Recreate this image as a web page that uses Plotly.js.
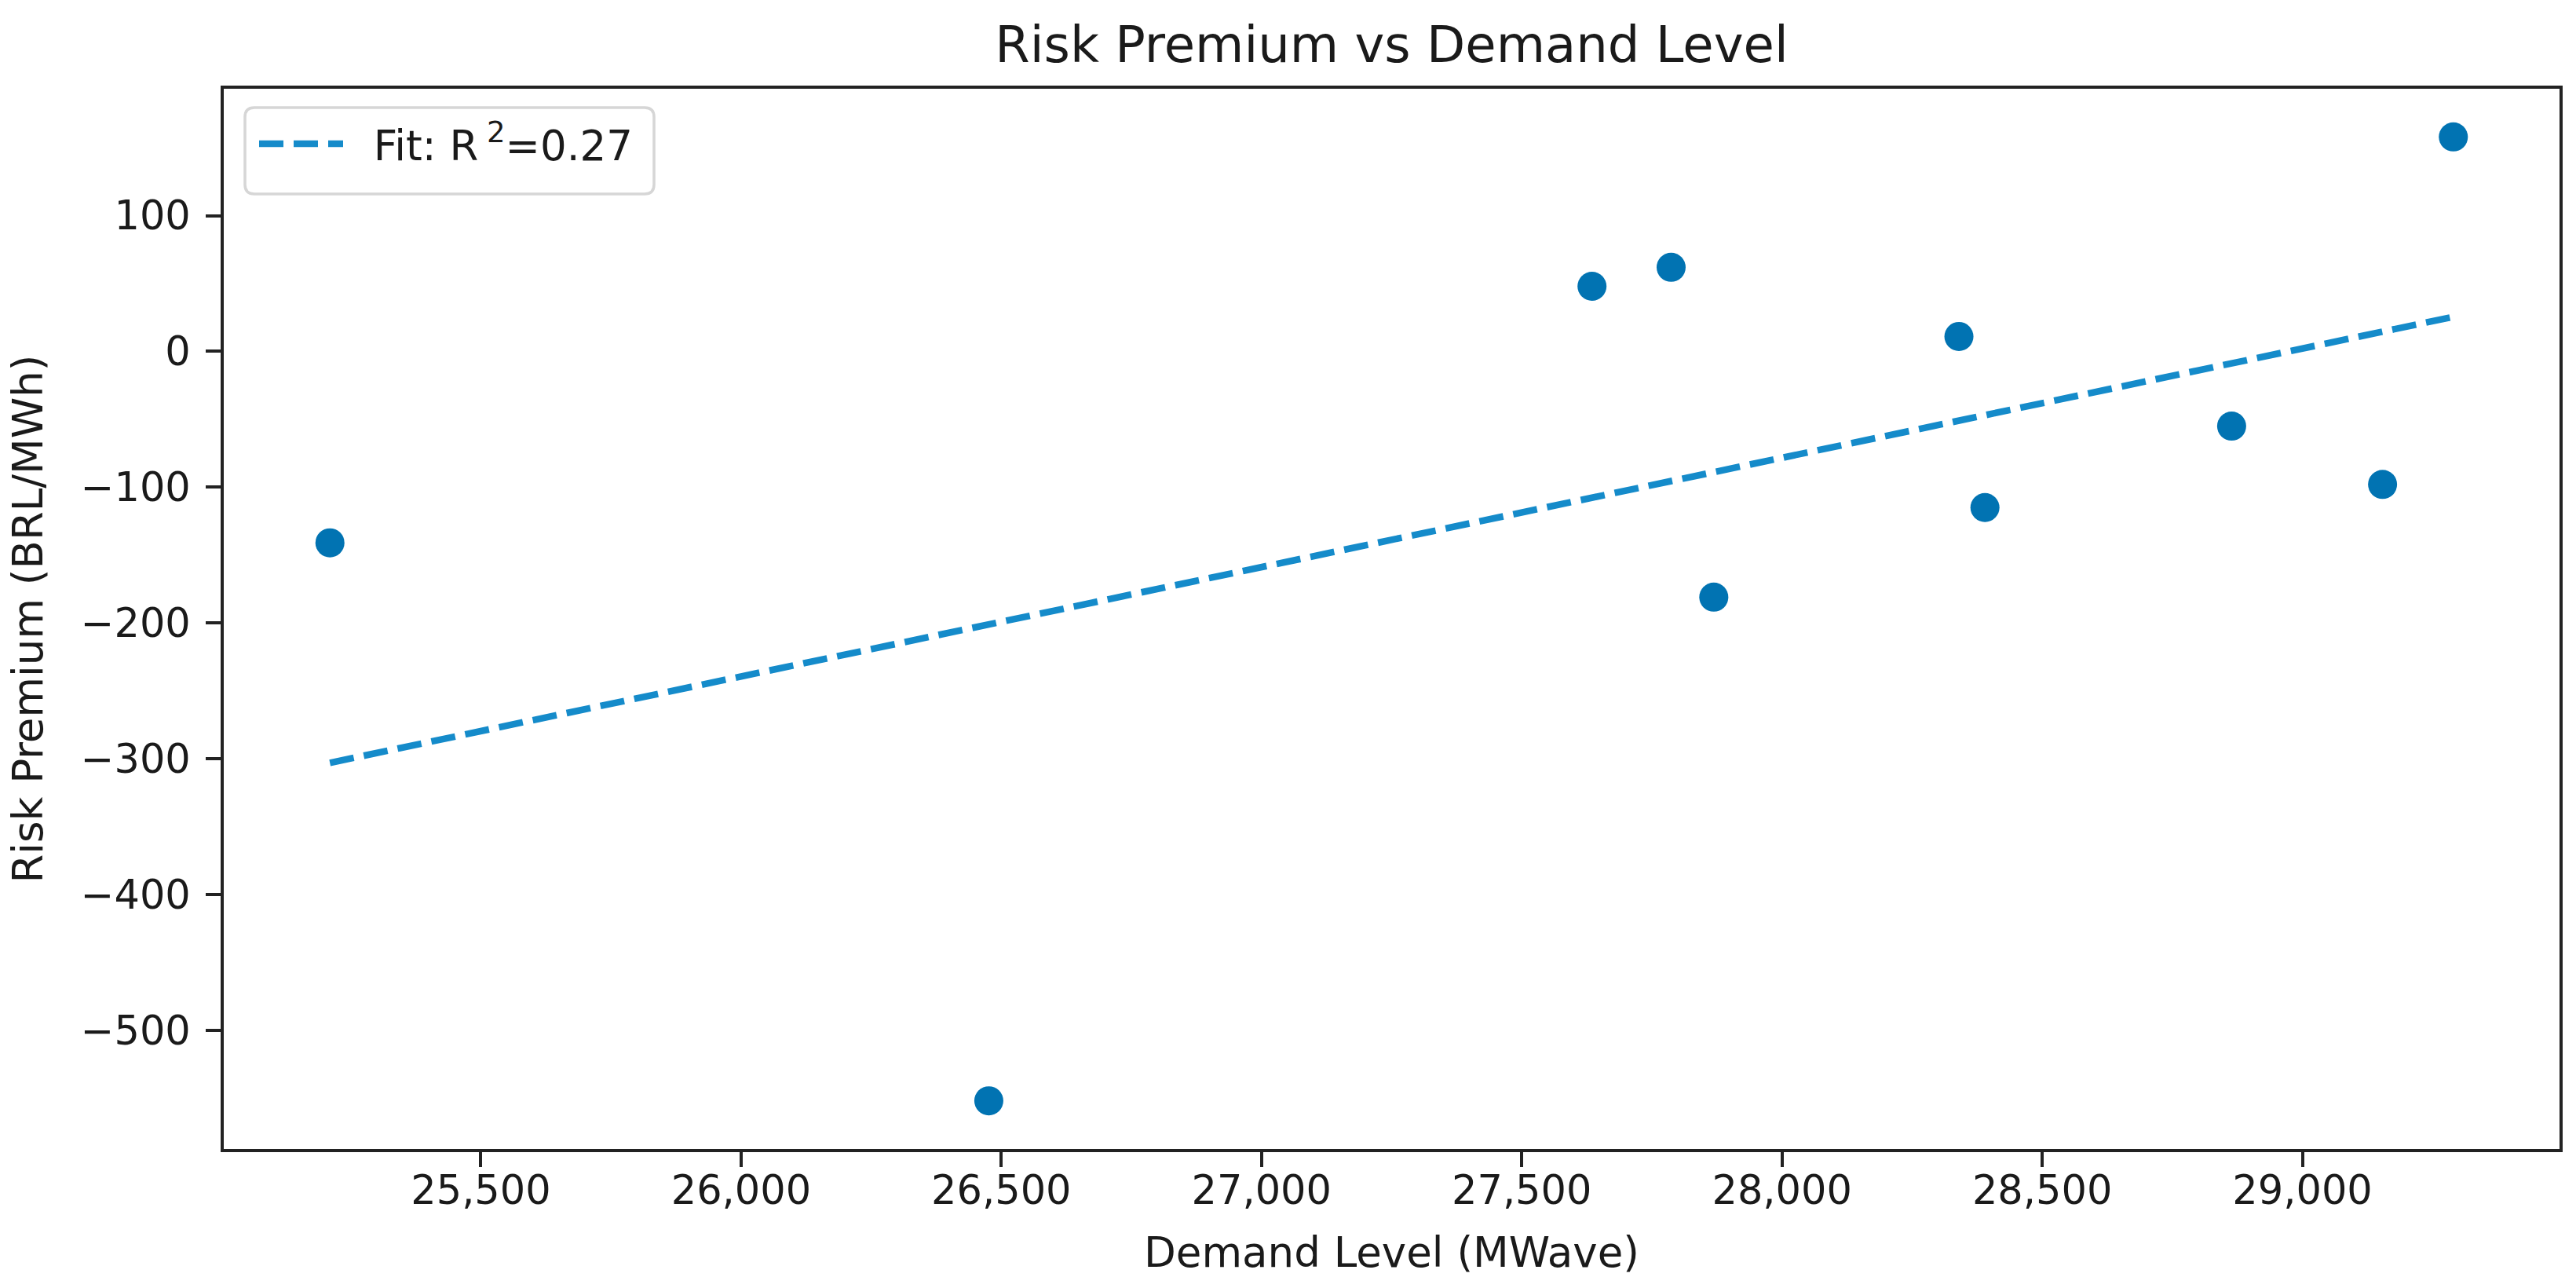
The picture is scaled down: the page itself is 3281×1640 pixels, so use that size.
<!DOCTYPE html>
<html>
<head>
<meta charset="utf-8">
<script src="https://cdn.plot.ly/plotly-3.0.1.min.js"></script>
<style>html,body{margin:0;padding:0;background:#fff;}#chart{width:3281px;height:1640px;}</style>
</head>
<body>
<div id="chart"></div>
<script>
// Data
const demandLevel = [25210, 26476, 27635, 27787, 27869, 28340, 28390, 28864, 29154, 29290];
const riskPremium = [-141, -552, 48, 62, -181, 11, -115, -55, -98, 158];
const xTickStep = 500;
const yTickStep = 100;
const chartTitle = "Risk Premium vs Demand Level";
const xLabel = "Demand Level (MWave)";
const yLabel = "Risk Premium (BRL/MWh)";

// Least-squares fit computed from the data
const n = demandLevel.length;
const mx = demandLevel.reduce((a, b) => a + b, 0) / n;
const my = riskPremium.reduce((a, b) => a + b, 0) / n;
let sxy = 0, sxx = 0, syy = 0;
for (let i = 0; i < n; i++) {
  const dx = demandLevel[i] - mx, dy = riskPremium[i] - my;
  sxy += dx * dy; sxx += dx * dx; syy += dy * dy;
}
const slope = sxy / sxx;
const intercept = my - slope * mx;
const r2 = (sxy * sxy) / (sxx * syy);
const xMin = Math.min(...demandLevel), xMax = Math.max(...demandLevel);
const fitX = [xMin, xMax];
const fitY = fitX.map(x => intercept + slope * x);

// matplotlib-like 5% margins
function padRange(vals) {
  const lo = Math.min(...vals), hi = Math.max(...vals);
  const p = (hi - lo) * 0.05;
  return [lo - p, hi + p];
}
const yAll = riskPremium.concat(fitY);

const FONT = "DejaVu Sans, sans-serif";
const TXT = "#1a1a1a";

const traces = [
  {
    x: demandLevel, y: riskPremium, type: "scatter", mode: "markers",
    marker: {size: 37, color: "#0173B2"},
    showlegend: false, hoverinfo: "x+y"
  },
  {
    x: fitX, y: fitY, type: "scatter", mode: "lines",
    line: {color: "#158bca", width: 8.5, dash: "31px,13px"},
    name: "&nbsp;&nbsp;Fit: R&#8201;<sup>2</sup>=" + r2.toFixed(2)
  }
];

const axisCommon = {
  showgrid: false, zeroline: false,
  showline: true, mirror: true, linecolor: "#222", linewidth: 4,
  ticks: "outside", ticklen: 19, tickwidth: 4, tickcolor: "#222",
  tickfont: {family: FONT, size: 51, color: TXT}
};

// legend frame (rounded, like matplotlib), in plot-area fractions
const W = 2975, H = 1350, rad = 12;
const bx0 = 27 / W, bx1 = 548 / W, by1 = 1 - 24 / H, by0 = 1 - 134 / H;
const rx = rad / W, ry = rad / H;
const framePath =
  `M${bx0 + rx},${by1} L${bx1 - rx},${by1} Q${bx1},${by1} ${bx1},${by1 - ry} ` +
  `L${bx1},${by0 + ry} Q${bx1},${by0} ${bx1 - rx},${by0} ` +
  `L${bx0 + rx},${by0} Q${bx0},${by0} ${bx0},${by0 + ry} ` +
  `L${bx0},${by1 - ry} Q${bx0},${by1} ${bx0 + rx},${by1} Z`;

const layout = {
  width: 3281, height: 1640,
  paper_bgcolor: "#ffffff", plot_bgcolor: "#ffffff",
  margin: {l: 285, r: 21, t: 113, b: 177, pad: 0},
  font: {family: FONT, color: TXT},
  title: {
    text: chartTitle, font: {family: FONT, size: 64, color: TXT},
    xref: "paper", x: 0.5, xanchor: "center",
    yref: "container", y: 1 - 57 / 1640, yanchor: "middle"
  },
  xaxis: Object.assign({}, axisCommon, {
    range: padRange(demandLevel), dtick: xTickStep, tick0: 0,
    tickformat: ",d", ticklabelstandoff: -14,
    title: {text: xLabel, font: {family: FONT, size: 53, color: TXT}, standoff: 33}
  }),
  yaxis: Object.assign({}, axisCommon, {
    range: padRange(yAll), dtick: yTickStep, tick0: 0,
    ticklabelstandoff: 9,
    title: {text: yLabel, font: {family: FONT, size: 53, color: TXT}, standoff: 32}
  }),
  shapes: [{
    type: "path", xref: "paper", yref: "paper", layer: "above",
    path: framePath,
    fillcolor: "rgba(255,255,255,0.8)",
    line: {color: "#d6d6d6", width: 3.5}
  }],
  legend: {
    x: 40 / W, y: 1 - 29 / H, xanchor: "left", yanchor: "top",
    xref: "paper", yref: "paper",
    bgcolor: "rgba(0,0,0,0)", borderwidth: 0,
    font: {family: FONT, size: 53, color: TXT},
    itemwidth: 107
  }
};

Plotly.newPlot("chart", traces, layout, {displayModeBar: false, staticPlot: true});
</script>
</body>
</html>
